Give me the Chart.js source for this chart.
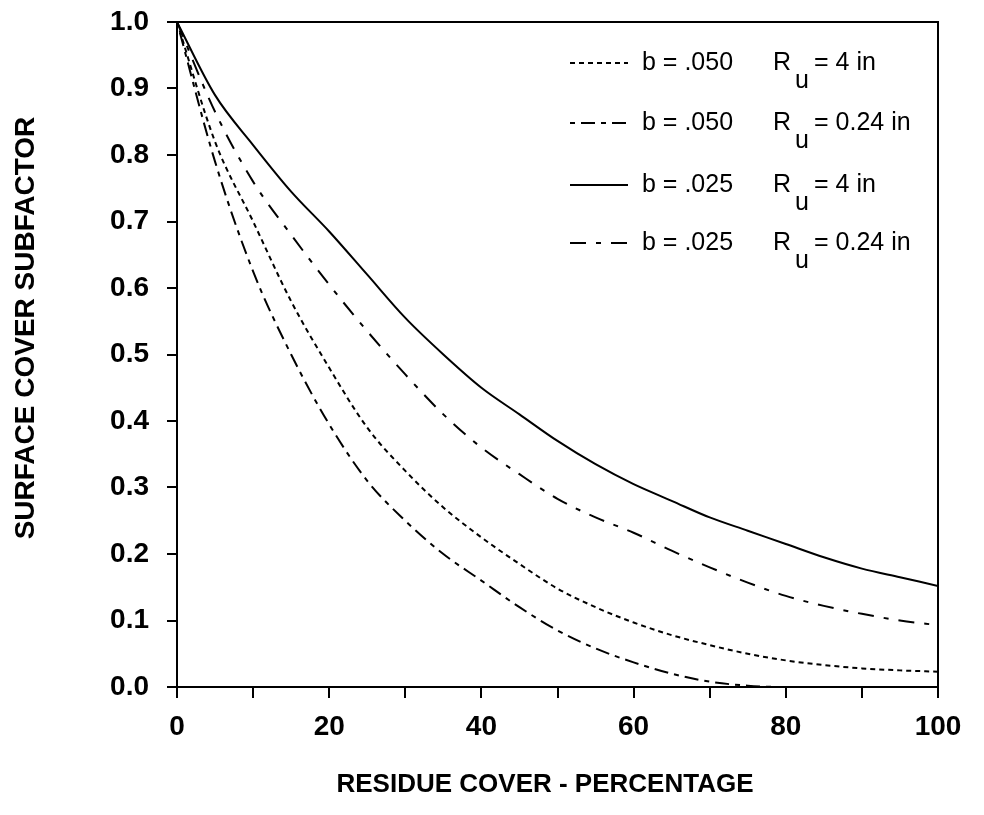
<!DOCTYPE html>
<html>
<head>
<meta charset="utf-8">
<script src="https://cdn.jsdelivr.net/npm/chart.js@4.4.1/dist/chart.umd.min.js"></script>
<style>
  html, body { margin: 0; background: #fff; }
</style>
</head>
<body>
<canvas id="chart" width="984" height="815"></canvas>
<script>
// residue cover (%) at which the curves were read
const residueCover = [0, 5, 10, 15, 20, 25, 30, 35, 40, 45, 50, 55, 60, 65, 70, 75, 80, 85, 90, 95, 100];

// surface cover subfactor
const b050Ru4 = [1.0, 0.82, 0.70, 0.58, 0.48, 0.39, 0.325, 0.27, 0.225, 0.185, 0.148, 0.12, 0.097, 0.078, 0.063, 0.05, 0.04, 0.033, 0.028, 0.025, 0.023];
const b050Ru024 = [1.0, 0.79, 0.625, 0.50, 0.395, 0.31, 0.25, 0.20, 0.16, 0.12, 0.085, 0.058, 0.037, 0.02, 0.008, 0.002, 0, 0, 0, 0, 0];
const b025Ru4 = [1.0, 0.89, 0.815, 0.745, 0.685, 0.62, 0.555, 0.50, 0.45, 0.41, 0.37, 0.335, 0.305, 0.28, 0.255, 0.235, 0.215, 0.195, 0.178, 0.165, 0.152];
const b025Ru024 = [1.0, 0.865, 0.76, 0.68, 0.605, 0.535, 0.47, 0.41, 0.36, 0.32, 0.283, 0.255, 0.232, 0.205, 0.18, 0.157, 0.137, 0.122, 0.11, 0.10, 0.093];

// legend and axis text
const legendB = ["b = .050", "b = .050", "b = .025", "b = .025"];
const legendRu = ["= 4 in", "= 0.24 in", "= 4 in", "= 0.24 in"];
const xTitle = "RESIDUE COVER - PERCENTAGE";
const yTitle = "SURFACE COVER SUBFACTOR";

const FONT = "'Liberation Sans', Arial, sans-serif";

const toPoints = (ys) => ys.map((y, i) => ({ x: residueCover[i], y: y }));

const series = [
  { values: b050Ru4, dash: [5, 4] },
  { values: b050Ru024, dash: [5, 6, 14, 6] },
  { values: b025Ru4, dash: [] },
  { values: b025Ru024, dash: [16, 10, 5, 10] },
];

// box round the plot area
const frame = {
  id: "frame",
  afterDatasetsDraw(chart) {
    const { ctx, chartArea: a } = chart;
    ctx.save();
    ctx.strokeStyle = "#000";
    ctx.lineWidth = 2;
    ctx.strokeRect(a.left, a.top, a.right - a.left, a.bottom - a.top);
    ctx.restore();
  },
};

// axis titles sit a little off-centre in the original, so draw them by hand
const titles = {
  id: "titles",
  afterDraw(chart) {
    const ctx = chart.ctx;
    ctx.save();
    ctx.fillStyle = "#000";
    ctx.textAlign = "center";
    ctx.textBaseline = "middle";
    ctx.font = "bold 26px " + FONT;
    ctx.fillText(xTitle, 545, 785);
    ctx.translate(26, 328);
    ctx.rotate(-Math.PI / 2);
    ctx.font = "bold 28px " + FONT;
    ctx.fillText(yTitle, 0, 0);
    ctx.restore();
  },
};

// legend with the subscript u, drawn inside the plot
const subLegend = {
  id: "subLegend",
  afterDraw(chart) {
    const ctx = chart.ctx;
    const rows = [63, 123, 185, 243];
    ctx.save();
    ctx.fillStyle = "#000";
    ctx.strokeStyle = "#000";
    ctx.textBaseline = "middle";
    ctx.font = "25px " + FONT;
    rows.forEach((y, i) => {
      ctx.lineWidth = 2;
      ctx.setLineDash(series[i].dash);
      ctx.beginPath();
      ctx.moveTo(570, y);
      ctx.lineTo(628, y);
      ctx.stroke();
      ctx.setLineDash([]);
      ctx.fillText(legendB[i], 642, y);
      ctx.fillText("R", 773, y);
      ctx.fillText("u", 795, y + 18);
      ctx.fillText(legendRu[i], 814, y);
    });
    ctx.restore();
  },
};

new Chart(document.getElementById("chart"), {
  type: "line",
  data: {
    datasets: series.map((s) => ({
      data: toPoints(s.values),
      borderColor: "#000",
      borderWidth: 2,
      borderDash: s.dash,
      pointRadius: 0,
      fill: false,
      cubicInterpolationMode: "monotone",
    })),
  },
  options: {
    responsive: false,
    devicePixelRatio: 1,
    animation: false,
    layout: { padding: { top: 22, right: 46, left: 0, bottom: 0 } },
    plugins: { legend: { display: false }, tooltip: { enabled: false } },
    scales: {
      x: {
        type: "linear",
        min: 0,
        max: 100,
        afterFit: (s) => { s.height = 128; },
        border: { display: true, color: "#000", width: 2 },
        grid: { drawOnChartArea: false, drawTicks: true, tickLength: 11, color: "#000", lineWidth: 2 },
        ticks: {
          stepSize: 10,
          padding: 12,
          color: "#000",
          font: { family: FONT, size: 28, weight: "bold" },
          maxRotation: 0,
          autoSkip: false,
          callback: (v) => (v % 20 === 0 ? v : ""),
        },
      },
      y: {
        min: 0,
        max: 1,
        afterFit: (s) => {
          s.width = 177;
          s.paddingTop = 0;
          s.paddingBottom = 0;
        },
        border: { display: true, color: "#000", width: 2 },
        grid: { drawOnChartArea: false, drawTicks: true, tickLength: 10, color: "#000", lineWidth: 2 },
        ticks: {
          stepSize: 0.1,
          padding: 18,
          color: "#000",
          font: { family: FONT, size: 28, weight: "bold" },
          callback: (v) => v.toFixed(1),
        },
      },
    },
  },
  plugins: [frame, titles, subLegend],
});
</script>
</body>
</html>
